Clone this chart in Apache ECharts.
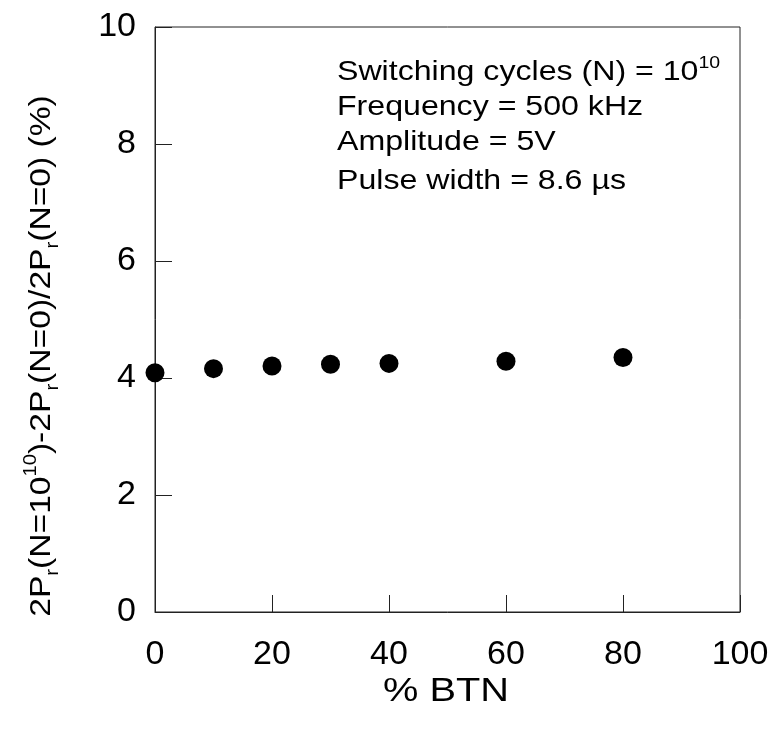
<!DOCTYPE html>
<html>
<head>
<meta charset="utf-8">
<script src="https://cdn.jsdelivr.net/npm/echarts@6/dist/echarts.min.js"></script>
<style>
  html, body { margin: 0; padding: 0; background: #fff; }
  #chart { width: 775px; height: 735px; }
</style>
</head>
<body>
<div id="chart"></div>
<script>
const btnPercent = [0, 10, 20, 30, 40, 60, 80];
const prChange = [4.09, 4.16, 4.205, 4.235, 4.25, 4.285, 4.35];
const xTicks = [0, 20, 40, 60, 80, 100];
const yTicks = [0, 2, 4, 6, 8, 10];
const notes = [
  '{t|Switching cycles (N) = 10}{sup|10}',
  'Frequency = 500 kHz',
  'Amplitude = 5V',
  'Pulse width = 8.6 \u00b5s'
];
const xTitle = '% BTN';
const yTitle = '{t|2P}{sub|r}{t|(N=10}{sup|10}{t|)-2P}{sub|r}{t|(N=0)/2P}{sub|r}{t|(N=0) (%)}';

const font = '"Liberation Sans", Arial, sans-serif';
let chartDom = document.getElementById('chart');
let myChart = echarts.init(chartDom);

// annotation lines, centres
const noteY = [72, 107, 142, 181];
const noteGraphics = notes.map((txt, i) => ({
  type: 'text', x: 337, y: noteY[i], scaleX: 1.147,
  style: {
    text: txt, fill: '#000', font: '28px ' + font,
    verticalAlign: 'middle', align: 'left',
    rich: {
      t: { fontFamily: font, fontSize: 28, fill: '#000', lineHeight: 35 },
      sup: { fontFamily: font, fontSize: 17, fill: '#000', lineHeight: 9, verticalAlign: 'top' }
    }
  }
}));

let option = {
  animation: false,
  grid: { left: 155, right: 35, top: 27, bottom: 123, show: true, borderColor: '#222', borderWidth: 1 },
  xAxis: {
    type: 'value', min: 0, max: 100, interval: 20,
    axisLine: { lineStyle: { color: '#222', width: 1 } },
    axisTick: { inside: true, length: 17, lineStyle: { color: '#222' } },
    axisLabel: { margin: 26, fontFamily: font, fontSize: 34, color: '#000',
      formatter: v => xTicks.includes(v) ? String(v) : '' },
    splitLine: { show: false }
  },
  yAxis: {
    type: 'value', min: 0, max: 10, interval: 2,
    axisLine: { show: true, lineStyle: { color: '#222', width: 1 } },
    axisTick: { show: true, inside: true, length: 17, lineStyle: { color: '#222' } },
    axisLabel: { margin: 19, fontFamily: font, fontSize: 34, color: '#000',
      formatter: v => yTicks.includes(v) ? String(v) : '' },
    splitLine: { show: false }
  },
  graphic: noteGraphics.concat([
    {
      type: 'text', x: 446, y: 692, scaleX: 1.17,
      style: { text: xTitle, fill: '#000', font: '34px ' + font, align: 'center', verticalAlign: 'middle' }
    },
    {
      type: 'text', x: 42, y: 356, rotation: Math.PI / 2, scaleX: 1.12,
      style: {
        text: yTitle, align: 'center', verticalAlign: 'middle',
        rich: {
          t: { fontFamily: font, fontSize: 30, fill: '#000', lineHeight: 40 },
          sub: { fontFamily: font, fontSize: 18, fill: '#000', lineHeight: 10, verticalAlign: 'bottom' },
          sup: { fontFamily: font, fontSize: 18, fill: '#000', lineHeight: 12, verticalAlign: 'top' }
        }
      }
    }
  ]),
  series: [{
    type: 'scatter',
    data: btnPercent.map((x, i) => [x, prChange[i]]),
    symbol: 'circle', symbolSize: 19,
    itemStyle: { color: '#000', opacity: 1 }
  }]
};
option && myChart.setOption(option);
</script>
</body>
</html>
